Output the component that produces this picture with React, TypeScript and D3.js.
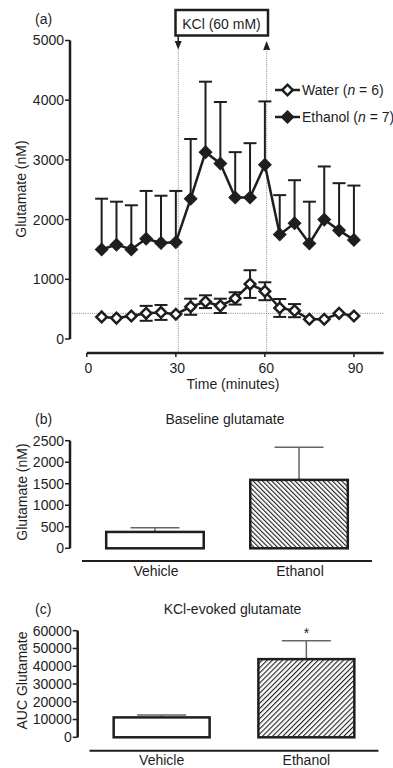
import React from 'react';
import * as d3 from 'd3';

// panel (a) time course, sampling every 5 min
const times = [5, 10, 15, 20, 25, 30, 35, 40, 45, 50, 55, 60, 65, 70, 75, 80, 85, 90];
const waterMean = [370, 350, 385, 430, 445, 415, 540, 625, 555, 680, 920, 800, 520, 475, 330, 330, 430, 385];
const waterSem = [0, 0, 0, 125, 125, 0, 135, 107, 120, 103, 232, 150, 150, 110, 0, 0, 0, 0];
const ethanolMean = [1500, 1580, 1500, 1680, 1610, 1620, 2350, 3130, 2940, 2370, 2370, 2920, 1750, 1940, 1600, 2000, 1820, 1660];
const ethanolSem = [850, 720, 740, 800, 790, 860, 1000, 1180, 1030, 760, 910, 1060, 660, 720, 700, 890, 790, 910];
const baselineLevel = 430;
const kclWindow = [30.8, 60.6];
const timeTicks = [0, 30, 60, 90];
const glutTicks = [0, 1000, 2000, 3000, 4000, 5000];

// panels (b) and (c)
const groups = ['Vehicle', 'Ethanol'];
const baselineMean = [380, 1590];
const baselineSem = [100, 760];
const baselineTicks = [0, 500, 1000, 1500, 2000, 2500];
const aucMean = [11200, 44000];
const aucSem = [1400, 10300];
const aucTicks = [0, 10000, 20000, 30000, 40000, 50000, 60000];

const FONT = "'Liberation Sans', Arial, Helvetica, sans-serif";
const INK = '#1e1e1e';
const FS = 14;

const App = () => {
  // ----- panel (a) scales
  const x = d3.scaleLinear().domain([0, 100]).range([86.8, 383.6]);
  const y = d3.scaleLinear().domain([0, 5000]).range([339, 40.5]);
  const line = d3.line<number>().x((d, i) => x(times[i])).y(d => y(d));
  const squareW = d3.symbol(d3.symbolSquare, 56)();
  const squareE = d3.symbol(d3.symbolSquare, 80)();
  const cap = 6.5;

  // ----- panel (b) scales
  const xb = d3.scaleBand().domain(groups).range([82, 372]).paddingInner(0.323).paddingOuter(0.168);
  const yb = d3.scaleLinear().domain([0, 2500]).range([548.3, 440.7]);
  // ----- panel (c) scales
  const xc = d3.scaleBand().domain(groups).range([89.5, 378.5]).paddingInner(0.337).paddingOuter(0.167);
  const yc = d3.scaleLinear().domain([0, 60000]).range([737.3, 630.7]);

  const barPanel = (
    xs: d3.ScaleBand<string>, ys: d3.ScaleLinear<number, number>, means: number[], sems: number[],
    ticks: number[], axisX: number, axisY: number, hatch: string
  ) => (
    <g>
      {/* y axis */}
      <line x1={axisX} x2={axisX} y1={ys(ticks[ticks.length - 1])} y2={ys(0)} stroke={INK} strokeWidth={2.5} />
      {ticks.map(t => (
        <g key={t}>
          <line x1={axisX - 5} x2={axisX} y1={ys(t)} y2={ys(t)} stroke={INK} strokeWidth={1.5} />
          <text x={axisX - 6} y={ys(t)} dy="0.35em" textAnchor="end" fontSize={FS} fill={INK}>{t}</text>
        </g>
      ))}
      {/* x axis */}
      <line x1={xs.range()[0]} x2={xs.range()[1]} y1={axisY} y2={axisY} stroke={INK} strokeWidth={2} />
      {groups.map((g, i) => {
        const cx = (xs(g) as number) + xs.bandwidth() / 2;
        return (
          <g key={g}>
            <line x1={cx} x2={cx} y1={ys(means[i])} y2={ys(means[i] + sems[i])} stroke="#666" strokeWidth={1.5} />
            <line x1={cx - 24.5} x2={cx + 24.5} y1={ys(means[i] + sems[i])} y2={ys(means[i] + sems[i])} stroke="#666" strokeWidth={1.5} />
            <rect x={xs(g)} y={ys(means[i])} width={xs.bandwidth()} height={ys(0) - ys(means[i])}
              fill={i === 0 ? '#fff' : `url(#${hatch})`} stroke={INK} strokeWidth={2.5} />
          </g>
        );
      })}
    </g>
  );

  return (
    <svg width={393} height={768} style={{ position: 'absolute', left: 0, top: 0, background: '#fff' }}
      fontFamily={FONT}>
      <defs>
        <pattern id="hatchB" patternUnits="userSpaceOnUse" width={3.3} height={10} patternTransform="rotate(-45)">
          <rect x={0} y={0} width={1.1} height={10} fill={INK} />
        </pattern>
        <pattern id="hatchC" patternUnits="userSpaceOnUse" width={3.6} height={10} patternTransform="rotate(45)">
          <rect x={0} y={0} width={1.1} height={10} fill={INK} />
        </pattern>
      </defs>

      {/* ================= panel (a) ================= */}
      <text x={35} y={24} fontSize={FS} fill={INK}>(a)</text>

      {/* KCl box and arrows */}
      <rect x={175.5} y={10} width={92.5} height={25.5} fill="#fff" stroke={INK} strokeWidth={2.5} />
      <text x={221.5} y={29} textAnchor="middle" fontSize={FS} fill={INK}>KCl (60 mM)</text>
      <line x1={x(kclWindow[0])} x2={x(kclWindow[0])} y1={36} y2={43} stroke={INK} strokeWidth={1.5} />
      <path d={`M${x(kclWindow[0]) - 3.5},${41}L${x(kclWindow[0]) + 3.5},${41}L${x(kclWindow[0])},${49.5}Z`} fill={INK} />
      <path d={`M${x(kclWindow[1]) - 3.5},${50}L${x(kclWindow[1]) + 3.5},${50}L${x(kclWindow[1])},${41}Z`} fill={INK} />
      {kclWindow.map(t => (
        <line key={t} x1={x(t)} x2={x(t)} y1={49} y2={352} stroke="#777" strokeWidth={0.9} strokeDasharray="1,1.2" />
      ))}
      <line x1={70} x2={384} y1={y(baselineLevel)} y2={y(baselineLevel)} stroke="#777" strokeWidth={0.9} strokeDasharray="1,1.2" />

      {/* y axis */}
      <line x1={70} x2={70} y1={y(5000)} y2={y(0)} stroke={INK} strokeWidth={2.5} />
      {glutTicks.map(t => (
        <g key={t}>
          <line x1={65} x2={70} y1={y(t)} y2={y(t)} stroke={INK} strokeWidth={1.5} />
          <text x={64} y={y(t)} dy="0.35em" textAnchor="end" fontSize={FS} fill={INK}>{t}</text>
        </g>
      ))}
      <text transform="translate(25.5,189) rotate(-90)" textAnchor="middle" fontSize={FS} fill={INK}>Glutamate (nM)</text>

      {/* x axis */}
      <line x1={x(0)} x2={x(100)} y1={353} y2={353} stroke={INK} strokeWidth={2.5} />
      {timeTicks.map(t => (
        <g key={t}>
          <line x1={x(t)} x2={x(t)} y1={353} y2={357} stroke={INK} strokeWidth={1.5} />
          <text x={x(t) + 1.5} y={373} textAnchor="middle" fontSize={FS} fill={INK}>{t}</text>
        </g>
      ))}
      <text x={233} y={389} textAnchor="middle" fontSize={FS} fill={INK}>Time (minutes)</text>

      {/* ethanol series */}
      {ethanolMean.map((m, i) => (
        <g key={i} stroke={INK} strokeWidth={2}>
          <line x1={x(times[i])} x2={x(times[i])} y1={y(m)} y2={y(m + ethanolSem[i])} />
          <line x1={x(times[i]) - cap} x2={x(times[i]) + cap} y1={y(m + ethanolSem[i])} y2={y(m + ethanolSem[i])} />
        </g>
      ))}
      <path d={line(ethanolMean) as string} fill="none" stroke={INK} strokeWidth={2.5} />
      {ethanolMean.map((m, i) => (
        <path key={i} d={squareE as string} transform={`translate(${x(times[i])},${y(m)}) rotate(45)`} fill={INK} stroke={INK} strokeWidth={1} />
      ))}

      {/* water series */}
      {waterMean.map((m, i) => waterSem[i] > 0 && (
        <g key={i} stroke={INK} strokeWidth={2}>
          <line x1={x(times[i])} x2={x(times[i])} y1={y(m - waterSem[i])} y2={y(m + waterSem[i])} />
          <line x1={x(times[i]) - cap} x2={x(times[i]) + cap} y1={y(m + waterSem[i])} y2={y(m + waterSem[i])} />
          <line x1={x(times[i]) - cap} x2={x(times[i]) + cap} y1={y(m - waterSem[i])} y2={y(m - waterSem[i])} />
        </g>
      ))}
      <path d={line(waterMean) as string} fill="none" stroke={INK} strokeWidth={2.5} />
      {waterMean.map((m, i) => (
        <path key={i} d={squareW as string} transform={`translate(${x(times[i])},${y(m)}) rotate(45)`} fill="#fff" stroke={INK} strokeWidth={2.5} />
      ))}

      {/* legend */}
      <line x1={275} x2={300} y1={90} y2={90} stroke={INK} strokeWidth={2.5} />
      <path d={squareW as string} transform="translate(287.5,90) rotate(45)" fill="#fff" stroke={INK} strokeWidth={2.5} />
      <text x={302} y={95} fontSize={FS} fill={INK}>Water (<tspan fontStyle="italic">n</tspan> = 6)</text>
      <line x1={275} x2={300} y1={117} y2={117} stroke={INK} strokeWidth={2.5} />
      <path d={squareE as string} transform="translate(287.5,117) rotate(45)" fill={INK} stroke={INK} strokeWidth={1} />
      <text x={302} y={122} fontSize={FS} fill={INK}>Ethanol (<tspan fontStyle="italic">n</tspan> = 7)</text>

      {/* ================= panel (b) ================= */}
      <text x={35} y={424} fontSize={FS} fill={INK}>(b)</text>
      <text x={225} y={424} textAnchor="middle" fontSize={FS} fill={INK}>Baseline glutamate</text>
      <text transform="translate(27,492) rotate(-90)" textAnchor="middle" fontSize={FS} fill={INK}>Glutamate (nM)</text>
      {barPanel(xb, yb, baselineMean, baselineSem, baselineTicks, 70, 561, 'hatchB')}
      {groups.map(g => (
        <text key={g} x={(xb(g) as number) + xb.bandwidth() / 2 + 1} y={575.5} textAnchor="middle" fontSize={FS} fill={INK}>{g}</text>
      ))}

      {/* ================= panel (c) ================= */}
      <text x={35} y={614} fontSize={FS} fill={INK}>(c)</text>
      <text x={232.5} y={614} textAnchor="middle" fontSize={FS} fill={INK}>KCl-evoked glutamate</text>
      <text transform="translate(27,680.5) rotate(-90)" textAnchor="middle" fontSize={FS} fill={INK}>AUC Glutamate</text>
      {barPanel(xc, yc, aucMean, aucSem, aucTicks, 77.7, 750.7, 'hatchC')}
      <text x={(xc('Ethanol') as number) + xc.bandwidth() / 2} y={638} textAnchor="middle" fontSize={FS} fill={INK}>*</text>
      {groups.map(g => (
        <text key={g} x={(xc(g) as number) + xc.bandwidth() / 2} y={765} textAnchor="middle" fontSize={FS} fill={INK}>{g}</text>
      ))}
    </svg>
  );
};

export default App;
